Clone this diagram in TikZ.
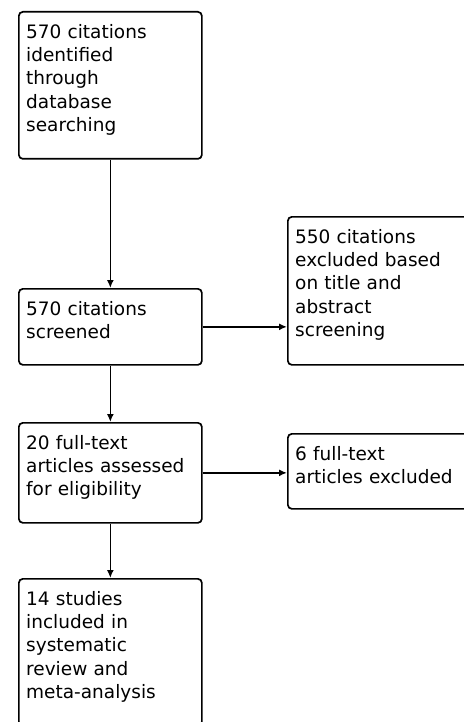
\documentclass[tikz,border=0pt]{standalone}
\usepackage{fontspec}
\setmainfont{DejaVu Sans}
\usetikzlibrary{arrows.meta, positioning}

\begin{document}
\begin{tikzpicture}[x=1pt, y=-1pt,
    every node/.style={font=\fontsize{18.5}{23.3}\selectfont},
    box/.style={draw, rectangle, rounded corners=4pt, line width=1.7pt, minimum width=183pt, anchor=north west, inner sep=0pt},
    txt/.style={anchor=north west, align=left, text width=172pt, inner xsep=8pt, inner ysep=13pt},
    arr/.style={-{Latex[length=8pt,width=7pt]}, line width=1.6pt}]
    \useasboundingbox (0,0) rectangle (463,722);
    % main column
    \node[box, minimum height=147pt] (ident) at (18,11) {};
    \node[txt] (ident-t) at (ident.north west) {570 citations\\identified\\through\\database\\searching};
    \node[box, minimum height=76pt] (screen) at (18,288) {};
    \node[txt] (screen-t) at (screen.north west) {570 citations\\screened};
    \node[box, minimum height=100pt] (elig) at (18,422) {};
    \node[txt] (elig-t) at (elig.north west) {20 full-text\\articles assessed\\for eligibility};
    \node[box, minimum height=147pt] (incl) at (18,578) {};
    \node[txt] (incl-t) at (incl.north west) {14 studies\\included in\\systematic\\review and\\meta-analysis};
    % exclusions
    \node[box, minimum height=148pt] (excl1) at (287,216) {};
    \node[txt] (excl1-t) at (excl1.north west) {550 citations\\excluded based\\on title and\\abstract\\screening};
    \node[box, minimum height=75pt] (excl2) at (287,433) {};
    \node[txt] (excl2-t) at (excl2.north west) {6 full-text\\articles excluded};
    \draw[arr] (ident) -- (screen);
    \draw[arr] (screen) -- (elig);
    \draw[arr] (elig) -- (incl);
    \draw[arr] (screen.east) -- (screen.east -| excl1.west);
    \draw[arr] (elig.east) -- (elig.east -| excl2.west);
\end{tikzpicture}
\end{document}
